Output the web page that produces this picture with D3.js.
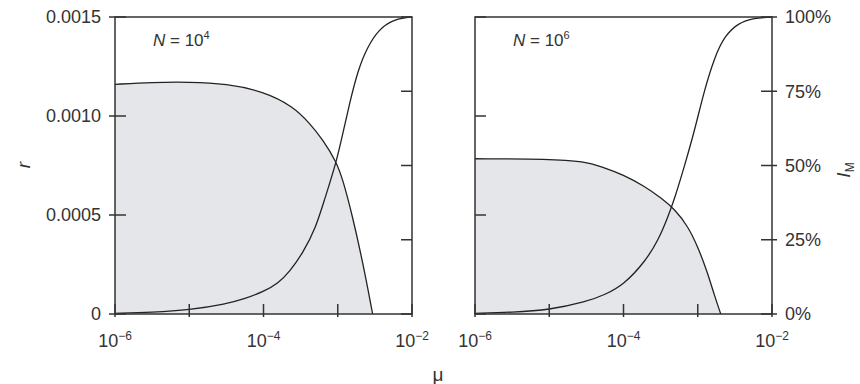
<!DOCTYPE html>
<html>
<head>
<meta charset="utf-8">
<script src="https://cdn.jsdelivr.net/npm/d3@7"></script>
<style>
  body { margin: 0; background: #fff; }
  text { font-family: "Liberation Sans", Arial, sans-serif; fill: #333; }
</style>
</head>
<body>
<div id="chart"></div>
<script>
// log10(mu) positions, with the values at them
var rMu4 = [-6, -5.5, -5, -4.5, -4, -3.6, -3.38, -3.2, -3.02, -2.93, -2.8, -2.66, -2.53];
var r4 = [0.001160, 0.001170, 0.001172, 0.001163, 0.001124, 0.001048, 0.000964, 0.00088, 0.00077, 0.000678, 0.000492, 0.000256, 0];

var imMu4 = [-6, -5.5, -5, -4.5, -4.25, -4, -3.8, -3.65, -3.47, -3.29, -3.18, -3.02, -2.93, -2.84, -2.73, -2.6, -2.44, -2.26, -2.08, -2];
var im4 = [0.002, 0.006, 0.0135, 0.034, 0.052, 0.075, 0.104, 0.142, 0.205, 0.294, 0.384, 0.51, 0.61, 0.71, 0.82, 0.90, 0.96, 0.99, 0.998, 1.0];

var rMu6 = [-6, -5, -4.52, -4.3, -4, -3.71, -3.49, -3.31, -3.13, -3.0, -2.88, -2.77, -2.69];
var r6 = [0.000784, 0.000783, 0.00077, 0.000745, 0.000703, 0.000644, 0.000585, 0.000529, 0.000442, 0.00034, 0.000222, 0.0000876, 0];

var imMu6 = [-6, -5.5, -5, -4.5, -4.25, -4, -3.71, -3.53, -3.4, -3.31, -3.18, -3.04, -2.91, -2.77, -2.64, -2.46, -2.23, -2.04, -2];
var im6 = [0.002, 0.006, 0.0135, 0.041, 0.065, 0.098, 0.176, 0.249, 0.328, 0.39, 0.497, 0.62, 0.755, 0.867, 0.935, 0.98, 0.997, 0.999, 1.0];

var xTicks = [-6, -5, -4, -3, -2];
var xLabels = [-6, -4, -2];
var rTicks = [0, 0.0005, 0.0010, 0.0015];
var rTickLabels = ["0", "0.0005", "0.0010", "0.0015"];
var imTicks = [0, 0.25, 0.5, 0.75, 1];
var imTickLabels = ["0%", "25%", "50%", "75%", "100%"];

var width = 860, height = 384;
var plotTop = 17, plotBottom = 314;
var ink = "#333";
var smooth = d3.curveBasis;

var svg = d3.select("#chart").append("svg")
  .attr("width", width)
  .attr("height", height);

svg.append("rect").attr("width", width).attr("height", height).attr("fill", "#fff");

var yR = d3.scaleLinear().domain([0, 0.0015]).range([plotBottom, plotTop]);
var yI = d3.scaleLinear().domain([0, 1]).range([plotBottom, plotTop]);

function pow10(e) { return Math.pow(10, e); }

function drawPanel(left, right, rMu, rVals, imMu, imVals, nExp, labelLeft, labelRight) {
  var x = d3.scaleLog().domain([1e-6, 1e-2]).range([left, right]);
  var g = svg.append("g");

  var rData = rMu.map(function(e, i) { return { mu: pow10(e), v: rVals[i] }; });
  var imData = imMu.map(function(e, i) { return { mu: pow10(e), v: imVals[i] }; });

  // shaded area under r
  g.append("path")
    .datum(rData)
    .attr("fill", "#e4e6e9")
    .attr("d", d3.area()
      .curve(smooth)
      .x(function(d) { return x(d.mu); })
      .y0(yR(0))
      .y1(function(d) { return yR(d.v); }));

  g.append("path")
    .datum(rData)
    .attr("fill", "none")
    .attr("stroke", "#222")
    .attr("stroke-width", 1.3)
    .attr("d", d3.line()
      .curve(smooth)
      .x(function(d) { return x(d.mu); })
      .y(function(d) { return yR(d.v); }));

  g.append("path")
    .datum(imData)
    .attr("fill", "none")
    .attr("stroke", "#222")
    .attr("stroke-width", 1.3)
    .attr("d", d3.line()
      .curve(smooth)
      .x(function(d) { return x(d.mu); })
      .y(function(d) { return yI(d.v); }));

  // frame
  g.append("rect")
    .attr("x", left).attr("y", plotTop)
    .attr("width", right - left).attr("height", plotBottom - plotTop)
    .attr("fill", "none")
    .attr("stroke", ink)
    .attr("stroke-width", 1.5);

  // x ticks
  g.selectAll(".xt").data(xTicks).enter().append("line")
    .attr("x1", function(d) { return x(pow10(d)); })
    .attr("x2", function(d) { return x(pow10(d)); })
    .attr("y1", plotBottom - 10).attr("y2", plotBottom + 3)
    .attr("stroke", ink).attr("stroke-width", 1.5);

  var xl = g.selectAll(".xl").data(xLabels).enter().append("text")
    .attr("x", function(d) { return x(pow10(d)); })
    .attr("y", 347)
    .attr("text-anchor", "middle")
    .style("font-size", "18px");
  xl.append("tspan").text("10");
  xl.append("tspan").attr("dy", -7).style("font-size", "12px")
    .text(function(d) { return "\u2212" + Math.abs(d); });

  // left side ticks
  g.selectAll(".yl").data(rTicks).enter().append("line")
    .attr("x1", labelLeft ? left - 6 : left).attr("x2", left + 11)
    .attr("y1", function(d) { return yR(d); })
    .attr("y2", function(d) { return yR(d); })
    .attr("stroke", ink).attr("stroke-width", 1.5);

  if (labelLeft) {
    g.selectAll(".ylt").data(rTicks).enter().append("text")
      .attr("x", left - 14)
      .attr("y", function(d) { return yR(d); })
      .attr("dy", "0.35em")
      .attr("text-anchor", "end")
      .style("font-size", "18px")
      .text(function(d, i) { return rTickLabels[i]; });
  }

  // right side ticks
  g.selectAll(".yr").data(imTicks).enter().append("line")
    .attr("x1", right - 11).attr("x2", labelRight ? right + 5 : right)
    .attr("y1", function(d) { return yI(d); })
    .attr("y2", function(d) { return yI(d); })
    .attr("stroke", ink).attr("stroke-width", 1.5);

  if (labelRight) {
    g.selectAll(".yrt").data(imTicks).enter().append("text")
      .attr("x", right + 13)
      .attr("y", function(d) { return yI(d); })
      .attr("dy", "0.35em")
      .style("font-size", "18px")
      .text(function(d, i) { return imTickLabels[i]; });
  }

  // N label
  var nl = g.append("text")
    .attr("x", left + 38).attr("y", 46)
    .style("font-size", "17px");
  nl.append("tspan").style("font-style", "italic").text("N");
  nl.append("tspan").text(" = 10");
  nl.append("tspan").attr("dy", -7).style("font-size", "11px").text(nExp);
}

drawPanel(115, 412, rMu4, r4, imMu4, im4, "4", true, false);
drawPanel(475, 772, rMu6, r6, imMu6, im6, "6", false, true);

// axis titles
svg.append("text")
  .attr("transform", "translate(30,165) rotate(-90)")
  .attr("text-anchor", "middle")
  .style("font-size", "19px")
  .style("font-style", "italic")
  .text("r");

svg.append("text")
  .attr("x", 438).attr("y", 381)
  .attr("text-anchor", "middle")
  .style("font-size", "19px")
  .text("\u03bc");

var im = svg.append("text")
  .attr("transform", "translate(850,170) rotate(-90)")
  .attr("text-anchor", "middle")
  .style("font-size", "19px");
im.append("tspan").style("font-style", "italic").text("I");
im.append("tspan").attr("dy", 4).style("font-size", "12px").text("M");
</script>
</body>
</html>
